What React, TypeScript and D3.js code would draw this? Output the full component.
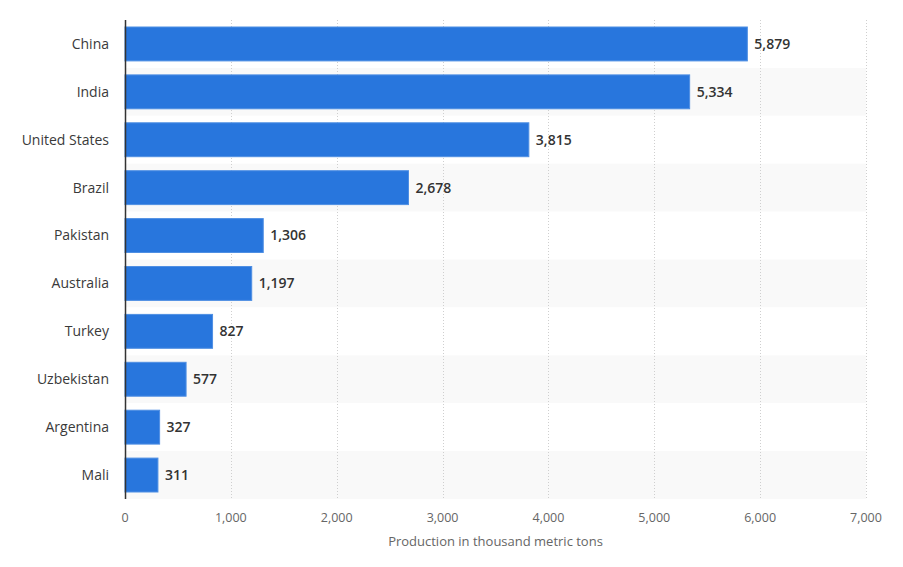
import { useEffect, useRef } from "react";
import * as d3 from "d3";

const countries = ["China", "India", "United States", "Brazil", "Pakistan", "Australia", "Turkey", "Uzbekistan", "Argentina", "Mali"];
const production = [5879, 5334, 3815, 2678, 1306, 1197, 827, 577, 327, 311];
const xTicks = [0, 1000, 2000, 3000, 4000, 5000, 6000, 7000];
const xTitle = "Production in thousand metric tons";

export default function App() {
  const svgRef = useRef<SVGSVGElement>(null);

  useEffect(() => {
    const svg = d3.select(svgRef.current);
    svg.selectAll("*").remove();

    const left = 125;
    const right = 866;
    const top = 20;
    const bottom = 499;
    const font = "'Open Sans', 'DejaVu Sans', sans-serif";

    const x = d3.scaleLinear().domain([0, 7000]).range([left, right]);
    const y = d3.scaleBand().domain(countries).range([top, bottom]).paddingInner(0).paddingOuter(0);
    const barPad = 7;

    // alternating row backgrounds
    svg
      .append("g")
      .selectAll("rect")
      .data(countries)
      .join("rect")
      .attr("x", left)
      .attr("y", (d) => y(d)!)
      .attr("width", right - left)
      .attr("height", y.bandwidth())
      .attr("fill", (_, i) => (i % 2 === 1 ? "#f9f9f9" : "#ffffff"));

    // grid
    svg
      .append("g")
      .selectAll("line")
      .data(xTicks.slice(1))
      .join("line")
      .attr("x1", (d) => Math.round(x(d)) + 0.5)
      .attr("x2", (d) => Math.round(x(d)) + 0.5)
      .attr("y1", top)
      .attr("y2", bottom)
      .attr("stroke", "#cfcfcf")
      .attr("stroke-dasharray", "1,2");

    // bars
    svg
      .append("g")
      .selectAll("rect")
      .data(production)
      .join("rect")
      .attr("x", x(0))
      .attr("y", (_, i) => y(countries[i])! + barPad)
      .attr("width", (d) => x(d) - x(0))
      .attr("height", y.bandwidth() - barPad * 2)
      .attr("fill", "#2876dd")
      .attr("stroke", "#4f8fe3")
      .attr("stroke-width", 1);

    // value labels
    svg
      .append("g")
      .selectAll("text")
      .data(production)
      .join("text")
      .attr("x", (d) => x(d) + 7)
      .attr("y", (_, i) => y(countries[i])! + y.bandwidth() / 2)
      .attr("dy", "0.35em")
      .attr("font-family", font)
      .attr("font-size", 14)
      .attr("font-weight", 600)
      .attr("fill", "#333")
      .text((d) => d3.format(",")(d));

    // category labels
    svg
      .append("g")
      .selectAll("text")
      .data(countries)
      .join("text")
      .attr("x", left - 16)
      .attr("y", (d) => y(d)! + y.bandwidth() / 2)
      .attr("dy", "0.35em")
      .attr("text-anchor", "end")
      .attr("font-family", font)
      .attr("font-size", 14)
      .attr("fill", "#3a3a3a")
      .text((d) => d);

    // y axis line
    svg
      .append("line")
      .attr("x1", left + 0.5)
      .attr("x2", left + 0.5)
      .attr("y1", top)
      .attr("y2", bottom)
      .attr("stroke", "#333")
      .attr("stroke-width", 1.5);

    // x tick labels
    svg
      .append("g")
      .selectAll("text")
      .data(xTicks)
      .join("text")
      .attr("x", (d) => x(d))
      .attr("y", 522)
      .attr("text-anchor", "middle")
      .attr("font-family", font)
      .attr("font-size", 12.5)
      .attr("fill", "#666")
      .text((d) => d3.format(",")(d));

    svg
      .append("text")
      .attr("x", (left + right) / 2)
      .attr("y", 546)
      .attr("text-anchor", "middle")
      .attr("font-family", font)
      .attr("font-size", 13)
      .attr("fill", "#666")
      .text(xTitle);
  }, []);

  return (
    <div style={{ position: "absolute", left: 0, top: 0 }}>
      <svg ref={svgRef} width={903} height={567} style={{ display: "block", background: "#fff" }} />
    </div>
  );
}
